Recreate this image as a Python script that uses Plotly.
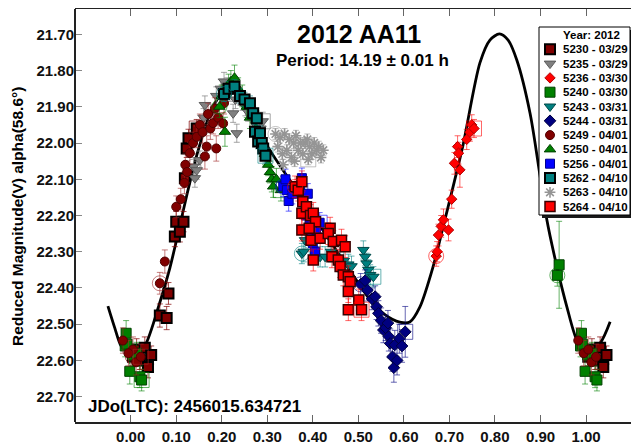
import plotly.graph_objects as go

# ---------------- fit curve ----------------
curve_phase = [-0.050, -0.035, -0.021, -0.005, 0.010, 0.031, 0.064, 0.086, 0.104, 0.124,
               0.146, 0.174, 0.195, 0.207, 0.222, 0.240, 0.273, 0.299, 0.334, 0.372,
               0.416, 0.460, 0.497, 0.526, 0.559, 0.591, 0.613, 0.635, 0.664, 0.686,
               0.708, 0.730, 0.767, 0.789, 0.810, 0.829, 0.848, 0.877, 0.899, 0.914,
               0.936, 0.958, 0.980, 1.002, 1.031, 1.053]
curve_mag = [22.450, 22.510, 22.560, 22.578, 22.585, 22.560, 22.440, 22.345, 22.250, 22.140,
             22.030, 21.920, 21.868, 21.847, 21.843, 21.867, 21.937, 22.006, 22.074, 22.143,
             22.229, 22.312, 22.381, 22.433, 22.474, 22.494, 22.494, 22.453, 22.342, 22.232,
             22.121, 22.005, 21.779, 21.716, 21.699, 21.716, 21.771, 21.917, 22.090, 22.212,
             22.341, 22.452, 22.544, 22.579, 22.552, 22.493]

# ---------------- sessions ----------------
ph_5230 = [0.005, 0.013, 0.020, 0.031, 0.038, 0.045, 0.064, 0.079, 0.083, 0.097, 0.100, 0.108, 0.116, 0.119, 0.123, 0.127, 0.145]
mag_5230 = [22.590, 22.570, 22.600, 22.565, 22.618, 22.585, 22.476, 22.483, 22.415, 22.258, 22.217, 22.245, 22.217, 22.097, 22.015, 21.987, 21.960]
err_5230 = [0.025, 0.030, 0.025, 0.030, 0.030, 0.025, 0.032, 0.032, 0.030, 0.028, 0.028, 0.028, 0.028, 0.025, 0.025, 0.025, 0.025]

ph_5235 = [0.138, 0.141, 0.145, 0.152, 0.160, 0.163, 0.175, 0.188, 0.198, 0.205, 0.212, 0.218, 0.225, 0.230, 0.233, 0.240, 0.246, 0.252, 0.258, 0.266, 0.275, 0.285, 0.290]
mag_5235 = [22.065, 22.097, 22.075, 22.047, 21.930, 21.895, 21.918, 21.870, 21.850, 21.830, 21.845, 21.860, 21.918, 21.880, 21.973, 21.870, 21.885, 21.900, 21.915, 21.930, 21.950, 21.960, 21.940]
err_5235 = [0.025, 0.025, 0.025, 0.025, 0.025, 0.025, 0.025, 0.025, 0.025, 0.025, 0.025, 0.025, 0.025, 0.025, 0.025, 0.025, 0.025, 0.025, 0.025, 0.025, 0.025, 0.025, 0.025]

ph_5236 = [0.671, 0.673, 0.676, 0.682, 0.687, 0.698, 0.705, 0.711, 0.718, 0.720, 0.723, 0.738, 0.745, 0.749, 0.754]
mag_5236 = [22.312, 22.300, 22.254, 22.230, 22.212, 22.240, 22.155, 22.056, 22.010, 22.028, 22.074, 21.990, 21.970, 21.950, 21.960]
err_5236 = [0.028, 0.028, 0.030, 0.030, 0.030, 0.030, 0.025, 0.030, 0.030, 0.030, 0.048, 0.028, 0.025, 0.028, 0.025]

ph_5240 = [0.937, 0.941, 0.988, 0.990, 0.992, 0.998, 0.004, 0.013, 0.020, 0.024]
mag_5240 = [22.365, 22.336, 22.560, 22.525, 22.555, 22.630, 22.585, 22.580, 22.645, 22.654]
err_5240 = [0.030, 0.120, 0.030, 0.035, 0.030, 0.035, 0.030, 0.030, 0.030, 0.030]

ph_5243 = [0.376, 0.380, 0.383, 0.416, 0.427, 0.440, 0.460, 0.468, 0.478, 0.485, 0.511, 0.515, 0.518, 0.522, 0.526, 0.533]
mag_5243 = [22.305, 22.300, 22.268, 22.314, 22.314, 22.300, 22.328, 22.325, 22.335, 22.340, 22.295, 22.314, 22.332, 22.350, 22.364, 22.369]
err_5243 = [0.028, 0.028, 0.025, 0.028, 0.028, 0.028, 0.028, 0.028, 0.028, 0.028, 0.025, 0.025, 0.028, 0.028, 0.028, 0.028]

ph_5244 = [0.505, 0.515, 0.520, 0.530, 0.537, 0.540, 0.544, 0.550, 0.555, 0.560, 0.565, 0.567, 0.570, 0.575, 0.578, 0.580, 0.585, 0.590, 0.596, 0.603]
mag_5244 = [22.390, 22.380, 22.406, 22.430, 22.424, 22.452, 22.470, 22.490, 22.516, 22.510, 22.497, 22.534, 22.553, 22.590, 22.620, 22.557, 22.600, 22.540, 22.560, 22.521]
err_5244 = [0.030, 0.030, 0.030, 0.030, 0.030, 0.035, 0.035, 0.035, 0.035, 0.035, 0.035, 0.040, 0.040, 0.040, 0.040, 0.040, 0.040, 0.040, 0.045, 0.070]

ph_5249 = [0.064, 0.075, 0.100, 0.110, 0.118, 0.120, 0.124, 0.130, 0.137, 0.145, 0.152, 0.158, 0.163, 0.167, 0.175, 0.181, 0.188, 0.192, 0.203, 0.170, 0.185, 0.205, 0.983, 0.995, 0.005, 0.012, 0.022]
mag_5249 = [22.387, 22.327, 22.176, 22.155, 22.110, 22.060, 22.080, 22.028, 22.000, 21.983, 21.950, 21.970, 22.037, 22.010, 21.960, 21.945, 22.015, 21.930, 21.946, 21.920, 21.905, 21.890, 22.545, 22.580, 22.570, 22.605, 22.590]
err_5249 = [0.030, 0.032, 0.030, 0.030, 0.030, 0.030, 0.030, 0.030, 0.030, 0.030, 0.030, 0.030, 0.035, 0.030, 0.030, 0.030, 0.035, 0.030, 0.030, 0.030, 0.030, 0.030, 0.035, 0.035, 0.035, 0.035, 0.035]

ph_5250 = [0.195, 0.200, 0.207, 0.215, 0.220, 0.228, 0.236, 0.245, 0.255, 0.262, 0.275, 0.285, 0.295, 0.302, 0.306, 0.310, 0.313, 0.320, 0.330]
mag_5250 = [21.900, 21.870, 21.969, 21.840, 21.830, 21.820, 21.850, 21.870, 21.900, 21.930, 21.960, 21.990, 22.030, 22.060, 22.080, 22.100, 22.120, 22.100, 22.130]
err_5250 = [0.030, 0.030, 0.040, 0.030, 0.030, 0.035, 0.030, 0.030, 0.030, 0.030, 0.030, 0.030, 0.030, 0.030, 0.030, 0.035, 0.030, 0.030, 0.030]

ph_5256 = [0.335, 0.340, 0.343, 0.347, 0.355, 0.376, 0.372, 0.389, 0.385, 0.393, 0.396, 0.400, 0.407, 0.405, 0.415]
mag_5256 = [22.120, 22.100, 22.130, 22.160, 22.140, 22.097, 22.120, 22.140, 22.200, 22.226, 22.250, 22.277, 22.240, 22.300, 22.220]
err_5256 = [0.028, 0.028, 0.028, 0.028, 0.028, 0.028, 0.028, 0.028, 0.028, 0.028, 0.028, 0.028, 0.028, 0.028, 0.028]

ph_5262 = [0.205, 0.215, 0.228, 0.240, 0.250, 0.262, 0.269, 0.273, 0.277, 0.280, 0.284, 0.288, 0.291, 0.296]
mag_5262 = [21.865, 21.850, 21.845, 21.870, 21.880, 21.890, 21.918, 21.969, 21.932, 21.996, 21.973, 22.000, 22.015, 22.035]
err_5262 = [0.020, 0.020, 0.020, 0.020, 0.020, 0.020, 0.020, 0.020, 0.020, 0.020, 0.020, 0.020, 0.020, 0.020]

ph_5263 = [0.318, 0.323, 0.328, 0.333, 0.338, 0.343, 0.348, 0.353, 0.358, 0.363, 0.368, 0.373, 0.378, 0.383, 0.388, 0.393, 0.398, 0.403, 0.408, 0.413, 0.418, 0.423, 0.335, 0.360, 0.390]
mag_5263 = [21.975, 22.010, 21.985, 22.030, 21.975, 22.020, 21.990, 22.040, 22.000, 21.980, 22.020, 22.000, 22.030, 22.000, 21.990, 22.010, 22.030, 22.000, 22.020, 22.010, 22.040, 22.020, 22.060, 22.050, 22.045]
err_5263 = [0.015] * 25

ph_5264 = [0.361, 0.368, 0.376, 0.378, 0.376, 0.386, 0.395, 0.401, 0.406, 0.376, 0.392, 0.396, 0.416, 0.438, 0.434, 0.445, 0.463, 0.471, 0.442, 0.456, 0.401, 0.460, 0.467, 0.478, 0.482, 0.478, 0.501, 0.478, 0.507]
mag_5264 = [22.121, 22.130, 22.107, 22.162, 22.194, 22.176, 22.200, 22.194, 22.217, 22.240, 22.235, 22.268, 22.263, 22.235, 22.250, 22.272, 22.268, 22.286, 22.314, 22.323, 22.323, 22.341, 22.364, 22.369, 22.383, 22.410, 22.433, 22.460, 22.460]
err_5264 = [0.030] * 29

session_names = ["5230 - 03/29", "5235 - 03/29", "5236 - 03/30", "5240 - 03/30",
                 "5243 - 03/31", "5244 - 03/31", "5249 - 04/01", "5250 - 04/01",
                 "5256 - 04/01", "5262 - 04/10", "5263 - 04/10", "5264 - 04/10"]
session_data = [(ph_5230, mag_5230, err_5230), (ph_5235, mag_5235, err_5235),
                (ph_5236, mag_5236, err_5236), (ph_5240, mag_5240, err_5240),
                (ph_5243, mag_5243, err_5243), (ph_5244, mag_5244, err_5244),
                (ph_5249, mag_5249, err_5249), (ph_5250, mag_5250, err_5250),
                (ph_5256, mag_5256, err_5256), (ph_5262, mag_5262, err_5262),
                (ph_5263, mag_5263, err_5263), (ph_5264, mag_5264, err_5264)]

x_ticks = [0.0, 0.1, 0.2, 0.3, 0.4, 0.5, 0.6, 0.7, 0.8, 0.9, 1.0]
y_ticks = [21.7, 21.8, 21.9, 22.0, 22.1, 22.2, 22.3, 22.4, 22.5, 22.6, 22.7]

title_text = "2012 AA11"
period_text = "Period: 14.19 ± 0.01 h"
jd_text = "JDo(LTC): 2456015.634721"
ytitle_text = "Reduced Magnitude(V) alpha(58.6°)"
legend_title = "Year: 2012"

# ---------------- styles ----------------
styles = [
    dict(symbol="square", color="#800000", line="#000000", lw=2, size=10, ecol="rgba(128,0,0,0.7)"),
    dict(symbol="triangle-down", color="#808080", line="#5a5a5a", lw=1, size=10, ecol="rgba(128,128,128,0.7)"),
    dict(symbol="diamond", color="#FF0000", line="#b00000", lw=1, size=8, ecol="rgba(255,0,0,0.6)"),
    dict(symbol="square", color="#008000", line="#004000", lw=1, size=10, ecol="rgba(0,128,0,0.6)"),
    dict(symbol="triangle-down", color="#008080", line="#004848", lw=1, size=10, ecol="rgba(0,128,128,0.6)"),
    dict(symbol="diamond", color="#000080", line="#000040", lw=1, size=9, ecol="rgba(0,0,128,0.6)"),
    dict(symbol="circle", color="#800000", line="#500000", lw=1, size=9, ecol="rgba(160,40,40,0.6)"),
    dict(symbol="triangle-up", color="#008000", line="#004000", lw=1, size=10, ecol="rgba(0,128,0,0.6)"),
    dict(symbol="square", color="#0000FF", line="#000090", lw=1, size=9, ecol="rgba(0,0,255,0.6)"),
    dict(symbol="square", color="#008080", line="#000000", lw=2, size=10, ecol="rgba(0,128,128,0.6)"),
    dict(symbol="asterisk-open", color="#959595", line="#959595", lw=1.6, size=9, ecol="rgba(150,150,150,0.6)"),
    dict(symbol="square", color="#FF0000", line="#3a0000", lw=1.5, size=10, ecol="rgba(255,0,0,0.6)"),
]


def wrap(ph, mag, err):
    xs, ys, es = list(ph), list(mag), list(err)
    for p, m, e in zip(ph, mag, err):
        if p < 0.05:
            xs.append(p + 1); ys.append(m); es.append(e)
        elif p > 0.95:
            xs.append(p - 1); ys.append(m); es.append(e)
    return xs, ys, es


fig = go.Figure()

fig.add_trace(go.Scatter(x=curve_phase, y=curve_mag, mode="lines",
                         line=dict(color="black", width=2.8, shape="spline", smoothing=0.8),
                         showlegend=False, hoverinfo="skip"))

for name, (ph, mag, err), st in zip(session_names, session_data, styles):
    xs, ys, es = wrap(ph, mag, err)
    fig.add_trace(go.Scatter(
        x=xs, y=ys, mode="markers", name=name, showlegend=False,
        error_y=dict(type="data", array=es, visible=True, color=st["ecol"], thickness=1, width=3),
        marker=dict(symbol=st["symbol"], color=st["color"], size=st["size"],
                    line=dict(color=st["line"], width=st["lw"]))))
    # first (circle) and last (square) observation markers
    fig.add_trace(go.Scatter(
        x=[ph[0], ph[-1]], y=[mag[0], mag[-1]], mode="markers", showlegend=False,
        marker=dict(symbol=["circle-open", "square-open"], size=15, color=st["ecol"],
                    line=dict(width=1, color=st["ecol"]))))

# ---------------- legend box (page pixel coords on overlay axes) ----------------
box_l, box_t, box_r, box_b = 539, 27, 630, 215
sh = 3
fig.add_trace(go.Scatter(x=[box_l + sh, box_r + sh, box_r + sh, box_l + sh, box_l + sh],
                         y=[box_t + sh, box_t + sh, box_b + sh, box_b + sh, box_t + sh],
                         xaxis="x2", yaxis="y2", mode="lines", fill="toself",
                         fillcolor="#1a1a1a", line=dict(color="#1a1a1a", width=0),
                         showlegend=False, hoverinfo="skip"))
fig.add_trace(go.Scatter(x=[box_l, box_r, box_r, box_l, box_l],
                         y=[box_t, box_t, box_b, box_b, box_t],
                         xaxis="x2", yaxis="y2", mode="lines", fill="toself",
                         fillcolor="white", line=dict(color="black", width=1),
                         showlegend=False, hoverinfo="skip"))

row0, drow = 49.3, 14.3
annotations = []
for i, (name, st) in enumerate(zip(session_names, styles)):
    yy = row0 + drow * i
    fig.add_trace(go.Scatter(x=[550], y=[yy], xaxis="x2", yaxis="y2", mode="markers",
                             marker=dict(symbol=st["symbol"], color=st["color"], size=st["size"],
                                         line=dict(color=st["line"], width=st["lw"])),
                             showlegend=False, hoverinfo="skip", cliponaxis=False))
    annotations.append(dict(x=561, y=yy, xref="x2", yref="y2", text=name, showarrow=False,
                            xanchor="left", yanchor="middle",
                            font=dict(size=11.5, color="black", weight="bold")))
annotations.append(dict(x=591, y=35, xref="x2", yref="y2", text=legend_title, showarrow=False,
                        xanchor="center", yanchor="middle",
                        font=dict(size=11.5, color="black", weight="bold")))

annotations += [
    dict(x=359, y=34, xref="x2", yref="y2", text=title_text, showarrow=False,
         xanchor="center", yanchor="middle", font=dict(size=25, color="black", weight="bold")),
    dict(x=362, y=60, xref="x2", yref="y2", text=period_text, showarrow=False,
         xanchor="center", yanchor="middle", font=dict(size=17, color="black", weight="bold")),
    dict(x=86, y=406, xref="x2", yref="y2", text=jd_text, showarrow=False,
         xanchor="left", yanchor="middle", font=dict(size=17, color="black", weight="bold")),
    # y-axis title (paper x so it may sit left of the plot area)
    dict(x=(17 - 75) / 564, y=217, xref="paper", yref="y2", text=ytitle_text, showarrow=False,
         textangle=-90, xanchor="center", yanchor="middle",
         font=dict(size=15.5, color="black", weight="bold")),
]

tickfont = dict(family="Arial, Liberation Sans, sans-serif", size=15, color="#111", weight="bold")

# The page body has an 8px default margin, so the figure is sized/offset to compensate.
fig.update_layout(
    width=631, height=437,
    margin=dict(l=67, r=0, t=1, b=23, pad=0),
    paper_bgcolor="white", plot_bgcolor="white",
    font=dict(family="Arial, Liberation Sans, sans-serif"),
    showlegend=False,
    xaxis=dict(range=[-0.1223, 1.1164], tickvals=x_ticks, ticktext=[f"{v:.2f}" for v in x_ticks],
               ticks="inside", ticklen=7, tickwidth=1, tickcolor="#666",
               showline=True, linecolor="#222", linewidth=2, mirror="ticks",
               showgrid=False, zeroline=False, tickfont=tickfont),
    yaxis=dict(range=[22.7698, 21.6302], tickvals=y_ticks, ticktext=[f"{v:.2f}" for v in y_ticks],
               ticks="inside", ticklen=7, tickwidth=1, tickcolor="#888",
               showline=False, mirror="ticks",
               showgrid=False, zeroline=False, tickfont=tickfont),
    xaxis2=dict(range=[75, 639], overlaying="x", visible=False, fixedrange=True),
    yaxis2=dict(range=[422, 9], overlaying="y", visible=False, fixedrange=True),
    annotations=annotations,
    shapes=[dict(type="line", xref="paper", yref="paper", x0=0, x1=0, y0=0, y1=1,
                 line=dict(color="#222", width=2))],
)

fig.write_html("out.html")
